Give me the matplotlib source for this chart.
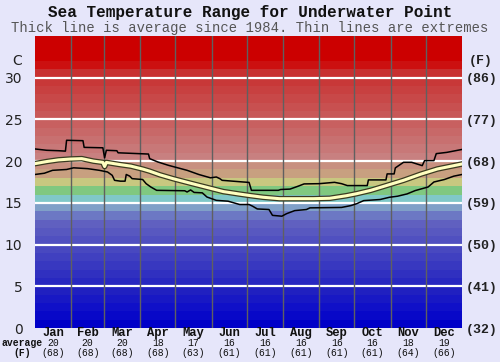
import matplotlib
matplotlib.use("Agg")
import matplotlib.pyplot as plt
import matplotlib.patheffects as pe
import matplotlib.transforms as mtransforms

# ---------------- data ----------------
months = ["Jan", "Feb", "Mar", "Apr", "May", "Jun", "Jul", "Aug", "Sep", "Oct", "Nov", "Dec"]
month_days = [31, 28, 31, 30, 31, 30, 31, 31, 30, 31, 30, 31]
avg_c = [20, 20, 20, 18, 17, 16, 16, 16, 16, 16, 18, 19]
avg_f = [68, 68, 68, 68, 63, 61, 61, 61, 61, 61, 64, 66]

c_ticks = [0, 5, 10, 15, 20, 25, 30]
f_ticks = ["(32)", "(41)", "(50)", "(59)", "(68)", "(77)", "(86)"]

upper_days = [0, 10, 20, 26, 27, 41, 42, 58, 59.5, 61, 70, 71, 97, 98, 105, 114,
              122, 130, 140, 150, 155, 158, 160, 178, 183, 185, 208, 210, 218, 225,
              230, 243, 256, 262, 267, 284, 285, 300, 301, 307, 308, 315, 322, 331,
              333, 341, 343, 352, 365]
upper_vals = [21.46, 21.3, 21.25, 21.2, 22.5, 22.45, 21.65, 21.6, 20.4, 21.3, 21.25, 21.0,
              20.85, 20.3, 19.9, 19.5, 19.2, 18.9, 18.4, 18.0, 18.1, 17.9, 17.7, 17.5,
              17.45, 16.5, 16.5, 16.6, 16.65, 17.0, 17.27, 17.3, 17.46, 17.3, 17.07, 17.07,
              17.75, 17.75, 18.47, 18.47, 19.19, 19.86, 19.86, 19.46, 20.06, 20.06, 20.9,
              21.05, 21.4]

lower_days = [0, 8, 15, 27, 33, 45, 55, 62, 66, 68, 73, 77, 78, 81, 83, 92, 95, 99,
              104, 128, 130, 133, 136, 143, 147, 155, 165, 175, 183, 186, 190, 200,
              203, 211, 215, 222, 232, 235, 262, 270, 275, 281, 295, 303, 310, 318,
              325, 336, 341, 350, 358, 365]
lower_vals = [18.4, 18.55, 18.9, 19.0, 19.2, 19.1, 18.9, 18.7, 18.3, 17.7, 17.6, 17.6,
              18.4, 18.2, 17.9, 17.8, 17.3, 16.9, 16.5, 16.45, 16.3, 16.55, 16.25, 16.2,
              15.7, 15.3, 15.2, 14.8, 14.8, 14.6, 14.27, 14.2, 13.5, 13.4, 13.7, 14.07,
              14.2, 14.4, 14.45, 14.67, 14.9, 15.27, 15.4, 15.67, 15.8, 16.07, 16.47,
              16.9, 17.5, 17.8, 18.2, 18.4]

avg_days = [0, 10, 20, 30, 40, 50, 58, 59.5, 61, 72, 82, 92, 98, 107, 118, 133, 147,
            161, 175, 184, 195, 209, 225, 238, 252, 266, 275, 287, 301, 315, 330, 344,
            358, 365]
avg_vals = [19.7, 19.95, 20.15, 20.25, 20.3, 20.0, 19.85, 19.35, 19.85, 19.6, 19.4,
            19.05, 18.8, 18.35, 17.9, 17.35, 16.85, 16.35, 16.05, 15.87, 15.67, 15.5,
            15.5, 15.5, 15.55, 15.85, 16.1, 16.5, 17.1, 17.7, 18.45, 19.06, 19.46, 19.66]

band_colors = ["#0000c8", "#0808c8", "#1010c8", "#1818c4", "#2020c0", "#2828c0",
               "#3030c0", "#3838c0", "#4040c0", "#4848c0", "#5050c0", "#5858c0",
               "#6060c0", "#6c78c4", "#80a0c8", "#80c8c8", "#80c880", "#c8c880",
               "#c8a080", "#c89080", "#c88080", "#c87878", "#c87070", "#c86868",
               "#c86060", "#c85858", "#c85050", "#c84848", "#c84040", "#c83838",
               "#c83030", "#cc1010", "#cc0000", "#cc0000", "#cc0000"]

# ---------------- figure ----------------
bg = "#e6e6fa"
fig = plt.figure(figsize=(5.0, 3.62), dpi=100, facecolor=bg)
ax = fig.add_axes([0.07, 0.0939, 0.854, 0.8067])
ax.set_xlim(0, 365)
ax.set_ylim(0, 35)

for i, col in enumerate(band_colors):
    ax.axhspan(i, i + 1, color=col, lw=0, zorder=0)

for c in c_ticks[1:]:
    ax.axhline(c, color="white", lw=1.6, zorder=1)

edges = [0]
for d in month_days:
    edges.append(edges[-1] + d)
for e in edges[1:-1]:
    ax.axvline(e, color="#606060", lw=1.0, zorder=1)

ax.plot(upper_days, upper_vals, color="black", lw=1.1, zorder=3)
ax.plot(lower_days, lower_vals, color="black", lw=1.1, zorder=3)
ax.plot(avg_days, avg_vals, color="#ffffc0", lw=2.2, zorder=4,
        path_effects=[pe.Stroke(linewidth=4.0, foreground="#3a3a20"), pe.Normal()])

for s in ax.spines.values():
    s.set_visible(False)
ax.set_xticks([])
ax.set_yticks(c_ticks)
ax.set_yticklabels([str(c) for c in c_ticks], fontsize=10, color="#222222",
                   family="DejaVu Sans")
ax.tick_params(axis="y", length=0, pad=9)

ax2 = ax.twinx()
ax2.set_ylim(0, 35)
ax2.set_yticks(c_ticks)
ax2.set_yticklabels(f_ticks, fontsize=9.5, fontweight="bold", color="#222222",
                    family="Liberation Mono")
ax2.tick_params(axis="y", length=0, pad=3)
for s in ax2.spines.values():
    s.set_visible(False)

# unit labels
fig.text(17 / 500, 1 - 61 / 362, "C", ha="center", va="center", fontsize=10,
         color="#222222", family="DejaVu Sans")
fig.text(481 / 500, 1 - 61 / 362, "(F)", ha="center", va="center", fontsize=9.5,
         fontweight="bold", color="#222222", family="Liberation Mono")

# titles
fig.text(0.5, 1 - 13 / 362, "Sea Temperature Range for Underwater Point", ha="center",
         va="center", fontsize=11.5, fontweight="bold", family="Liberation Mono",
         color="#111111")
fig.text(0.5, 1 - 28 / 362, "Thick line is average since 1984. Thin lines are extremes",
         ha="center", va="center", fontsize=10, family="Liberation Mono", color="#555555")

# month labels
trans = mtransforms.blended_transform_factory(ax.transData, fig.transFigure)
for i, m in enumerate(months):
    xc = (edges[i] + edges[i + 1]) / 2
    ax.text(xc, 1 - 333 / 362, m, transform=trans, ha="center", va="center",
            fontsize=8.7, fontweight="bold", family="Liberation Mono", color="#111111")
    ax.text(xc, 1 - 343.5 / 362, str(avg_c[i]), transform=trans, ha="center",
            va="center", fontsize=7, family="Liberation Mono", color="#111111")
    ax.text(xc, 1 - 353.5 / 362, "(%d)" % avg_f[i], transform=trans, ha="center",
            va="center", fontsize=7, family="Liberation Mono", color="#111111")

fig.text(22 / 500, 1 - 343.5 / 362, "average", ha="center", va="center", fontsize=7,
         fontweight="bold", family="Liberation Mono", color="#111111")
fig.text(22 / 500, 1 - 353.5 / 362, "(F)", ha="center", va="center", fontsize=7,
         fontweight="bold", family="Liberation Mono", color="#111111")

fig.savefig("out.png", dpi=100, facecolor=bg)
